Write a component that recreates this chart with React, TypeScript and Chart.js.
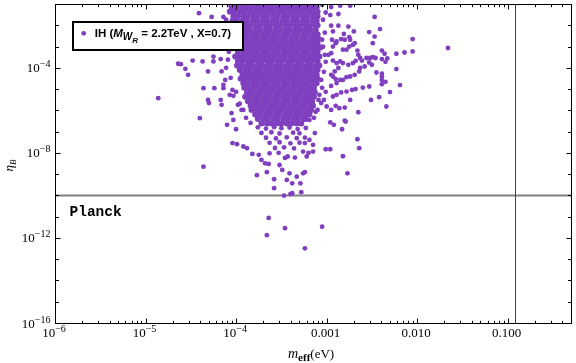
import React, { useEffect, useRef } from "react";
import { Chart, registerables } from "chart.js";
Chart.register(...registerables);

// ---- data (log10 values) ----
// dense core: rows of log10(eta_B), each with the log10(m_eff) values of its points
const coreEtaLog = [-0.95, -1.16, -1.37, -1.58, -1.79, -2.0, -2.21, -2.42, -2.63, -2.84, -3.05, -3.26, -3.47, -3.68, -3.89, -4.1, -4.31, -4.52, -4.73, -4.94, -5.15, -5.36, -5.57, -5.78, -5.99, -6.2, -6.41, -6.62];
const coreMeffLog = [
  [-4.08, -4.02, -3.97, -3.91, -3.86, -3.8, -3.75, -3.69, -3.64, -3.58, -3.53, -3.47, -3.42, -3.36, -3.31, -3.25, -3.2, -3.14, -3.1],
  [-4.05, -4.0, -3.94, -3.89, -3.83, -3.77, -3.72, -3.66, -3.61, -3.55, -3.5, -3.44, -3.39, -3.33, -3.28, -3.22, -3.17, -3.11],
  [-4.07, -4.02, -3.96, -3.91, -3.85, -3.8, -3.74, -3.69, -3.63, -3.58, -3.52, -3.47, -3.41, -3.36, -3.3, -3.25, -3.19, -3.14, -3.1],
  [-4.03, -3.98, -3.92, -3.87, -3.81, -3.76, -3.7, -3.65, -3.59, -3.54, -3.48, -3.43, -3.37, -3.32, -3.26, -3.21, -3.15, -3.1],
  [-4.04, -3.99, -3.93, -3.88, -3.82, -3.77, -3.71, -3.66, -3.6, -3.55, -3.49, -3.44, -3.38, -3.33, -3.27, -3.22, -3.16, -3.11],
  [-4.01, -3.96, -3.9, -3.85, -3.79, -3.74, -3.68, -3.63, -3.57, -3.52, -3.46, -3.41, -3.35, -3.3, -3.24, -3.19, -3.13, -3.1],
  [-4.0, -3.95, -3.89, -3.84, -3.78, -3.73, -3.67, -3.62, -3.56, -3.51, -3.45, -3.4, -3.34, -3.29, -3.23, -3.18, -3.12],
  [-3.98, -3.92, -3.87, -3.81, -3.76, -3.7, -3.65, -3.59, -3.54, -3.48, -3.43, -3.37, -3.32, -3.26, -3.21, -3.15, -3.1],
  [-4.0, -3.94, -3.89, -3.83, -3.78, -3.72, -3.67, -3.61, -3.56, -3.5, -3.45, -3.39, -3.34, -3.28, -3.23, -3.17, -3.12, -3.09],
  [-3.97, -3.92, -3.86, -3.81, -3.75, -3.7, -3.64, -3.59, -3.53, -3.48, -3.42, -3.37, -3.31, -3.26, -3.2, -3.15, -3.1],
  [-4.0, -3.95, -3.89, -3.84, -3.78, -3.73, -3.67, -3.62, -3.56, -3.51, -3.45, -3.4, -3.34, -3.29, -3.23, -3.18, -3.12, -3.07],
  [-3.98, -3.92, -3.87, -3.81, -3.76, -3.7, -3.65, -3.59, -3.54, -3.48, -3.43, -3.37, -3.32, -3.26, -3.21, -3.15, -3.1],
  [-4.01, -3.95, -3.9, -3.84, -3.79, -3.73, -3.68, -3.62, -3.57, -3.51, -3.46, -3.4, -3.35, -3.29, -3.24, -3.18, -3.13, -3.08],
  [-3.98, -3.93, -3.87, -3.82, -3.76, -3.71, -3.65, -3.6, -3.54, -3.49, -3.43, -3.38, -3.32, -3.27, -3.21, -3.16, -3.1],
  [-3.99, -3.94, -3.88, -3.83, -3.77, -3.72, -3.66, -3.61, -3.55, -3.5, -3.44, -3.39, -3.33, -3.28, -3.22, -3.17, -3.11, -3.08],
  [-3.96, -3.9, -3.85, -3.79, -3.74, -3.68, -3.63, -3.57, -3.52, -3.46, -3.41, -3.35, -3.3, -3.24, -3.19, -3.13, -3.1],
  [-3.93, -3.87, -3.82, -3.76, -3.71, -3.65, -3.6, -3.54, -3.49, -3.43, -3.38, -3.32, -3.27, -3.21, -3.16, -3.11],
  [-3.95, -3.9, -3.84, -3.79, -3.73, -3.68, -3.62, -3.57, -3.51, -3.46, -3.4, -3.35, -3.29, -3.24, -3.18, -3.13, -3.1],
  [-3.92, -3.87, -3.81, -3.76, -3.7, -3.65, -3.59, -3.54, -3.48, -3.43, -3.37, -3.32, -3.26, -3.21, -3.15, -3.11],
  [-3.91, -3.85, -3.8, -3.74, -3.69, -3.63, -3.58, -3.52, -3.47, -3.41, -3.36, -3.3, -3.25, -3.19, -3.14],
  [-3.88, -3.83, -3.77, -3.72, -3.66, -3.61, -3.55, -3.5, -3.44, -3.39, -3.33, -3.28, -3.22, -3.17, -3.13],
  [-3.9, -3.85, -3.79, -3.74, -3.68, -3.63, -3.57, -3.52, -3.46, -3.41, -3.35, -3.3, -3.24, -3.19, -3.14],
  [-3.87, -3.81, -3.76, -3.7, -3.65, -3.59, -3.54, -3.48, -3.43, -3.37, -3.32, -3.26, -3.21, -3.16],
  [-3.84, -3.79, -3.73, -3.68, -3.62, -3.57, -3.51, -3.46, -3.4, -3.35, -3.29, -3.24, -3.18, -3.15],
  [-3.83, -3.77, -3.72, -3.66, -3.61, -3.55, -3.5, -3.44, -3.39, -3.33, -3.28, -3.22, -3.17],
  [-3.79, -3.74, -3.68, -3.63, -3.57, -3.52, -3.46, -3.41, -3.35, -3.3, -3.24, -3.19],
  [-3.76, -3.7, -3.65, -3.59, -3.54, -3.48, -3.43, -3.37, -3.32, -3.26, -3.23],
  [-3.72, -3.66, -3.61, -3.55, -3.5, -3.44, -3.39, -3.33, -3.28],
];
// scattered points: [log10 m_eff, log10 eta_B]
const scatterLog = [
  [-4.41, -1.43], [-4.27, -1.61], [-4.14, -1.61], [-4.64, -3.81], [-4.48, -3.66], [-4.37, -3.7], [-4.25, -3.7], [-4.56, -4.05],
  [-4.53, -4.33], [-4.31, -4.17], [-4.25, -3.47], [-4.17, -3.59], [-4.16, -4.17], [-4.12, -4.57], [-4.86, -5.43], [-4.36, -4.96],
  [-4.24, -4.96], [-4.14, -4.96], [-4.31, -5.51], [-4.4, -6.37], [-4.17, -5.51], [-4.04, -5.04], [-4.61, -3.83], [-4.3, -5.66],
  [-4.36, -8.65], [-4.16, -5.74], [-4.1, -6.68], [-4.04, -7.54], [-3.99, -7.59], [-4.05, -6.13], [-4.03, -6.45], [-4.0, -6.89],
  [-3.92, -7.7], [-3.88, -7.78], [-3.82, -8.05], [-3.75, -8.09], [-3.77, -9.05], [-3.68, -8.49], [-3.64, -8.52], [-3.66, -8.91],
  [-3.58, -9.24], [-3.58, -9.66], [-3.52, -8.57], [-3.49, -8.8], [-3.44, -9.27], [-3.41, -8.96], [-3.38, -9.43], [-3.43, -8.17],
  [-3.33, -9.12], [-3.26, -8.96], [-3.29, -9.43], [-3.28, -9.85], [-3.47, -10.01], [-3.4, -9.94], [-3.64, -11.06], [-3.46, -11.54],
  [-3.66, -11.87], [-3.05, -11.47], [-3.24, -12.49], [-3.24, -7.54], [-3.15, -7.62], [-3.01, -7.83], [-2.96, -7.83], [-2.82, -8.16],
  [-2.77, -8.96], [-3.2, -8.0], [-3.15, -7.94], [-3.24, -8.91], [-3.38, -9.9],
  [-2.95, -1.14], [-2.85, -1.08], [-2.74, -1.08], [-3.01, -1.4], [-2.96, -1.52], [-2.87, -1.47], [-2.47, -1.61], [-2.95, -2.02],
  [-2.87, -2.02], [-2.76, -2.06], [-2.7, -2.29], [-2.53, -2.32], [-2.47, -2.53], [-2.41, -2.18], [-2.93, -2.29], [-2.81, -2.41],
  [-2.75, -2.56], [-2.74, -2.68], [-2.8, -2.68], [-2.84, -2.65], [-2.89, -2.76], [-2.94, -2.68], [-2.05, -2.65], [-1.66, -3.07],
  [-2.05, -3.23], [-2.14, -3.28], [-2.23, -3.34], [-2.49, -2.84], [-2.39, -3.19], [-2.36, -3.34], [-2.33, -3.56], [-2.35, -3.72],
  [-2.39, -3.59], [-2.66, -3.19], [-2.65, -3.39], [-2.63, -3.54], [-2.61, -3.66], [-2.68, -3.67], [-2.71, -2.92], [-2.69, -2.84],
  [-2.75, -3.0], [-2.78, -3.15], [-2.82, -3.15], [-2.56, -3.54], [-2.52, -3.54], [-2.49, -3.5], [-2.46, -3.54], [-2.53, -3.75],
  [-2.5, -3.86], [-2.58, -3.94], [-2.63, -4.01], [-2.23, -4.06], [-2.71, -3.78], [-2.76, -3.86], [-2.82, -3.78], [-2.85, -3.7],
  [-2.89, -3.78], [-2.93, -3.66], [-2.45, -4.22], [-2.39, -4.28], [-2.39, -4.41], [-2.39, -4.57], [-2.35, -4.66], [-2.39, -4.77],
  [-2.19, -4.81], [-2.3, -5.14], [-2.42, -5.38], [-2.51, -5.51], [-2.34, -5.82], [-2.65, -6.09], [-2.8, -6.48], [-2.83, -6.89],
  [-2.92, -6.68], [-2.96, -6.57], [-2.66, -7.36], [-2.64, -7.78], [-2.74, -5.51], [-2.8, -5.87], [-2.53, -4.88], [-2.6, -4.93],
  [-2.68, -5.0], [-2.72, -5.04], [-2.78, -5.12], [-2.84, -5.16], [-2.89, -5.27], [-2.93, -5.35], [-2.64, -4.17], [-2.69, -4.33],
  [-2.74, -4.41], [-2.78, -4.44], [-2.82, -4.57], [-2.85, -4.57], [-2.9, -4.53], [-2.93, -4.41], [-2.89, -4.72], [-2.95, -4.85],
  [-3.0, -5.82], [-2.95, -5.98], [-2.9, -5.79], [-2.86, -5.9], [-2.9, -2.84], [-2.93, -3.0], [-2.95, -3.31], [-2.98, -3.39],
  [-2.87, -4.01], [-2.91, -4.17], [-2.95, -4.33], [-3.09, -5.51], [-3.06, -5.66], [-3.08, -5.27], [-3.19, -6.45], [-3.13, -7.07],
  [-3.19, -7.39], [-3.26, -7.94], [-3.22, -8.17], [-2.79, -6.53],
  [-4.11, -1.74], [-4.09, -2.45], [-4.07, -3.06], [-4.06, -4.47], [-4.03, -5.32], [-3.98, -5.74], [-3.94, -5.98], [-4.09, -3.62], [-4.11, -4.0],
  [-4.09, -2.12], [-4.11, -2.92], [-4.08, -3.25], [-4.14, -4.8], [-4.07, -5.27], [-3.96, -5.69], [-3.92, -5.98], [-4.0, -5.13], [-3.89, -6.35], [-3.84, -6.59],
  [-3.05, -1.04], [-3.04, -1.74], [-3.02, -2.35], [-3.04, -3.01], [-3.01, -3.72], [-3.03, -4.19], [-3.05, -4.94], [-3.01, -5.13], [-3.12, -6.07], [-3.14, -6.35],
  [-3.05, -2.68], [-3.02, -3.39], [-3.06, -4.57], [-3.03, -5.51], [-3.1, -5.98],
  [-3.76, -6.8], [-3.67, -6.86], [-3.58, -6.79], [-3.5, -6.84], [-3.41, -6.81], [-3.32, -6.88], [-3.23, -6.83],
  [-3.72, -7.06], [-3.61, -7.03], [-3.52, -7.09], [-3.37, -7.05], [-3.3, -7.08],
  [-3.67, -7.29], [-3.56, -7.32], [-3.44, -7.27], [-3.33, -7.31], [-3.24, -7.28],
  [-3.63, -7.53], [-3.52, -7.5], [-3.4, -7.55], [-3.3, -7.52],
  [-3.57, -7.77], [-3.47, -7.74], [-3.36, -7.79], [-3.53, -8.0], [-3.63, -8.02], [-3.46, -8.24], [-3.35, -8.22], [-3.72, -8.33],
];

const xTickValues = [1e-6, 1e-5, 1e-4, 1e-3, 1e-2, 1e-1];
const xTickLabels = ["10^\u22126", "10^\u22125", "10^\u22124", "0.001", "0.010", "0.100"];
const yTickValues = [1e-16, 1e-12, 1e-8, 1e-4];
const yTickLabels = ["10^\u221216", "10^\u221212", "10^\u22128", "10^\u22124"];
const xMin = 1e-6, xMax = 0.5, yMin = 1e-16, yMax = 0.1;
const planckEta = 1e-10;
const meffLimit = 0.12;
const seriesLabel = "IH";

const PURPLE = "rgb(127,63,191)";
const SERIF = '"Liberation Serif", "Times New Roman", serif';
const SANS = '"Liberation Sans", Arial, sans-serif';
const MONO = '"Liberation Mono", "Courier New", monospace';

function corePoints() {
  const pts: { x: number; y: number }[] = [];
  coreEtaLog.forEach((ly, i) => coreMeffLog[i].forEach((lx) => pts.push({ x: Math.pow(10, lx), y: Math.pow(10, ly) })));
  return pts;
}
function scatterPoints() {
  return scatterLog.map(([lx, ly]) => ({ x: Math.pow(10, lx), y: Math.pow(10, ly) }));
}

function drawTickLabel(ctx: CanvasRenderingContext2D, label: string, x: number, baseline: number, align: "center" | "right") {
  ctx.textAlign = "left";
  ctx.textBaseline = "alphabetic";
  ctx.fillStyle = "#000";
  if (label.startsWith("10^")) {
    const exp = label.slice(3);
    ctx.font = `13px ${SERIF}`;
    const w1 = ctx.measureText("10").width;
    ctx.font = `10px ${SERIF}`;
    const w2 = ctx.measureText(exp).width;
    const total = w1 + w2;
    const start = align === "center" ? x - total / 2 : x - total;
    ctx.font = `13px ${SERIF}`;
    ctx.fillText("10", start, baseline);
    ctx.font = `10px ${SERIF}`;
    ctx.fillText(exp, start + w1, baseline - 5);
  } else {
    ctx.font = `13px ${SERIF}`;
    const w = ctx.measureText(label).width;
    const start = align === "center" ? x - w / 2 : x - w;
    ctx.fillText(label, start, baseline);
  }
}

const decorPlugin = {
  id: "decor",
  beforeDatasetsDraw(chart: any) {
    const { ctx, chartArea, scales } = chart;
    const { left, right, top, bottom } = chartArea;
    ctx.save();
    const py = scales.y.getPixelForValue(planckEta);
    ctx.strokeStyle = "#808080";
    ctx.lineWidth = 2;
    ctx.beginPath();
    ctx.moveTo(left, py);
    ctx.lineTo(right, py);
    ctx.stroke();
    const px = Math.round(scales.x.getPixelForValue(meffLimit)) + 0.5;
    ctx.strokeStyle = "#dd0000";
    ctx.lineWidth = 1;
    ctx.beginPath();
    ctx.moveTo(px, top);
    ctx.lineTo(px, bottom);
    ctx.stroke();
    ctx.restore();
  },
  afterDatasetsDraw(chart: any) {
    const { ctx, chartArea, scales } = chart;
    const { left, right, top, bottom } = chartArea;
    const L = left + 0.5, R = right + 0.5, T = top + 0.5, B = bottom + 0.5;
    ctx.save();
    ctx.strokeStyle = "#000";
    ctx.lineWidth = 1;
    ctx.strokeRect(L, T, R - L, B - T);
    ctx.beginPath();
    for (let d = -6; d <= -1; d++) {
      for (let m = 1; m <= 9; m++) {
        const v = m * Math.pow(10, d);
        if (v > xMax) break;
        const px = Math.round(scales.x.getPixelForValue(v)) + 0.5;
        const len = m === 1 ? 5 : 2.7;
        ctx.moveTo(px, B);
        ctx.lineTo(px, B - len);
        ctx.moveTo(px, T);
        ctx.lineTo(px, T + len);
      }
    }
    for (let d = -16; d <= -1; d++) {
      const v = Math.pow(10, d);
      const py = Math.round(scales.y.getPixelForValue(v)) + 0.5;
      const len = yTickValues.some((t) => Math.abs(Math.log10(t) - d) < 1e-6) ? 5 : 3.5;
      ctx.moveTo(L, py);
      ctx.lineTo(L + len, py);
      ctx.moveTo(R, py);
      ctx.lineTo(R - len, py);
    }
    ctx.stroke();
    xTickValues.forEach((v, i) => {
      const px = scales.x.getPixelForValue(v);
      drawTickLabel(ctx, xTickLabels[i], px - 1, bottom + 14, "center");
    });
    yTickValues.forEach((v, i) => {
      const py = scales.y.getPixelForValue(v);
      drawTickLabel(ctx, yTickLabels[i], left - 4.5, py + 4.5, "right");
    });
    // x title: m_eff(eV)
    ctx.fillStyle = "#000";
    ctx.textAlign = "left";
    ctx.textBaseline = "alphabetic";
    let cx = 288;
    ctx.font = `italic 14px ${SERIF}`;
    ctx.fillText("m", cx, 357.5);
    cx += ctx.measureText("m").width;
    ctx.font = `bold 11px ${SERIF}`;
    ctx.fillText("eff", cx, 361);
    cx += ctx.measureText("eff").width;
    ctx.font = `13px ${SERIF}`;
    ctx.fillText("(eV)", cx, 357.5);
    // y title: eta_B (rotated)
    ctx.save();
    ctx.translate(13, 171.5);
    ctx.rotate(-Math.PI / 2);
    ctx.font = `italic 13px ${SERIF}`;
    ctx.fillText("\u03b7", 0, 0);
    const ew = ctx.measureText("\u03b7").width;
    ctx.font = `italic 9px ${SERIF}`;
    ctx.fillText("B", ew, 2.5);
    ctx.restore();
    // Planck text
    ctx.font = `bold 14.5px ${MONO}`;
    ctx.fillText("Planck", 69.5, 215.5);
    // legend box
    ctx.fillStyle = "#fff";
    ctx.fillRect(73, 22, 170, 28);
    ctx.strokeStyle = "#000";
    ctx.lineWidth = 2;
    ctx.strokeRect(73, 22, 170, 28);
    ctx.fillStyle = PURPLE;
    ctx.beginPath();
    ctx.arc(83.7, 33.3, 2.4, 0, Math.PI * 2);
    ctx.fill();
    ctx.fillStyle = "#000";
    let lx = 94.7;
    const base = 36.7;
    ctx.font = `bold 11.5px ${SANS}`;
    ctx.fillText(seriesLabel + " (", lx, base);
    lx += ctx.measureText(seriesLabel + " (").width;
    ctx.font = `italic bold 11.5px ${SANS}`;
    ctx.fillText("M", lx, base);
    lx += ctx.measureText("M").width;
    ctx.font = `italic bold 10px ${SANS}`;
    ctx.fillText("W", lx, base + 3);
    lx += ctx.measureText("W").width;
    ctx.font = `italic bold 8px ${SANS}`;
    ctx.fillText("R", lx, base + 6);
    lx += ctx.measureText("R").width;
    ctx.font = `bold 11.5px ${SANS}`;
    ctx.fillText(" = 2.2TeV , X=0.7)", lx, base);
    ctx.restore();
  },
};

export default function App() {
  const ref = useRef<HTMLCanvasElement>(null);
  useEffect(() => {
    document.body.style.margin = "0";
    const canvas = ref.current!;
    const common = { pointBorderWidth: 0, pointBackgroundColor: PURPLE, pointBorderColor: PURPLE, clip: 0 };
    const chart = new Chart(canvas, {
      type: "scatter",
      data: {
        datasets: [
          { label: seriesLabel, data: corePoints(), pointRadius: 3.0, ...common } as any,
          { label: seriesLabel, data: scatterPoints(), pointRadius: 2.4, ...common } as any,
        ],
      },
      options: {
        animation: false,
        responsive: false,
        maintainAspectRatio: false,
        events: [],
        layout: { padding: { left: 55, right: 5, top: 4, bottom: 40 } },
        scales: {
          x: { type: "logarithmic", min: xMin, max: xMax, display: false },
          y: { type: "logarithmic", min: yMin, max: yMax, display: false },
        },
        plugins: { legend: { display: false }, tooltip: { enabled: false } },
      },
      plugins: [decorPlugin],
    });
    return () => chart.destroy();
  }, []);
  return (
    <div style={{ width: 576, height: 363, background: "#fff" }}>
      <canvas ref={ref} width={576} height={363} style={{ display: "block", width: 576, height: 363 }} />
    </div>
  );
}
